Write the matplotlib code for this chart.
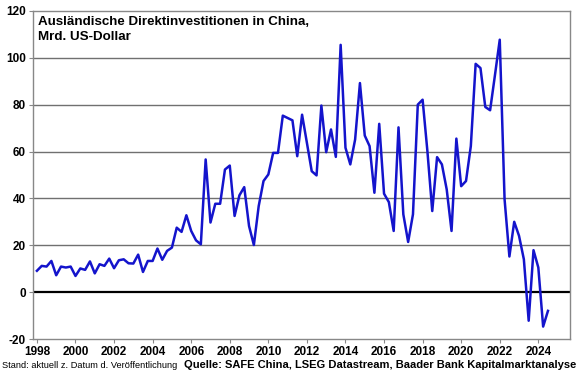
import matplotlib.pyplot as plt
import numpy as np

# Quarterly FDI into China, bn USD, 1998 Q1 .. 2024 Q3
fdi = [
    9.1, 11.2, 10.9, 13.3,      # 1998
    7.2, 10.9, 10.5, 10.9,      # 1999
    6.9, 10.1, 9.5, 13.1,       # 2000
    8.0, 11.9, 11.2, 14.3,      # 2001
    10.2, 13.6, 14.0, 12.3,     # 2002
    12.2, 16.0, 8.6, 13.3,      # 2003
    13.3, 18.6, 13.8, 17.6,     # 2004
    19.0, 27.5, 25.7, 32.8,     # 2005
    26.1, 22.1, 20.4, 56.6,     # 2006
    29.7, 37.7, 37.7, 52.3,     # 2007
    54.0, 32.5, 41.3, 44.8,     # 2008
    28.2, 20.1, 36.7, 47.4,     # 2009
    50.2, 59.4, 59.4, 75.3,     # 2010
    74.3, 73.3, 58.0, 75.7,     # 2011
    63.7, 51.6, 49.8, 79.6,     # 2012
    59.7, 69.4, 57.7, 105.5,    # 2013
    61.6, 54.5, 65.1, 89.2,     # 2014
    66.8, 62.3, 42.4, 71.8,     # 2015
    42.0, 38.4, 26.1, 70.3,     # 2016
    33.2, 21.4, 33.2, 80.0,     # 2017
    82.1, 60.0, 34.6, 57.6,     # 2018
    54.5, 43.8, 26.1, 65.5,     # 2019
    45.2, 47.4, 62.3, 97.4,     # 2020
    95.6, 79.0, 77.6, 92.5,     # 2021
    107.7, 39.6, 15.2, 30.0,    # 2022
    24.0, 14.0, -12.2, 17.9,    # 2023
    10.5, -14.7, -8.0,          # 2024
]
start_year = 1998
x_ticks = list(range(1998, 2026, 2))
y_ticks = list(range(-20, 121, 20))

title = "Ausländische Direktinvestitionen in China,\nMrd. US-Dollar"
note_left = "Stand: aktuell z. Datum d. Veröffentlichung"
note_right = "Quelle: SAFE China, LSEG Datastream, Baader Bank Kapitalmarktanalyse"

plt.rcParams['font.family'] = ['Liberation Sans', 'DejaVu Sans']

t = start_year + np.arange(len(fdi)) / 4.0

fig = plt.figure(figsize=(5.8, 3.75), dpi=100)
ax = fig.add_axes([0.057, 0.096, 0.926, 0.875])

for yv in y_ticks[2:-1]:
    ax.axhline(yv, color='#707070', lw=1.0, zorder=1)
ax.axhline(0, color='black', lw=1.6, zorder=2)

ax.plot(t, fdi, color='#1414cc', lw=1.8, zorder=3)

ax.set_xlim(1997.8, 2025.65)
ax.set_ylim(-20, 120)
ax.set_xticks(x_ticks)
ax.set_yticks(y_ticks)
ax.set_xticklabels([str(v) for v in x_ticks], fontsize=8.5, fontweight='bold')
ax.set_yticklabels([str(v) for v in y_ticks], fontsize=8.5, fontweight='bold')
ax.tick_params(axis='both', direction='out', length=3, color='#888888', pad=2)

for s in ax.spines.values():
    s.set_color('#888888')
    s.set_linewidth(1.0)

ax.text(0.009, 0.983, title, transform=ax.transAxes, ha='left', va='top',
        fontsize=9.6, fontweight='bold', linespacing=1.25)

fig.text(0.004, 0.012, note_left, ha='left', va='bottom', fontsize=6.7)
fig.text(0.993, 0.012, note_right, ha='right', va='bottom', fontsize=8.0,
         fontweight='bold')

fig.savefig('out.png', dpi=100)
